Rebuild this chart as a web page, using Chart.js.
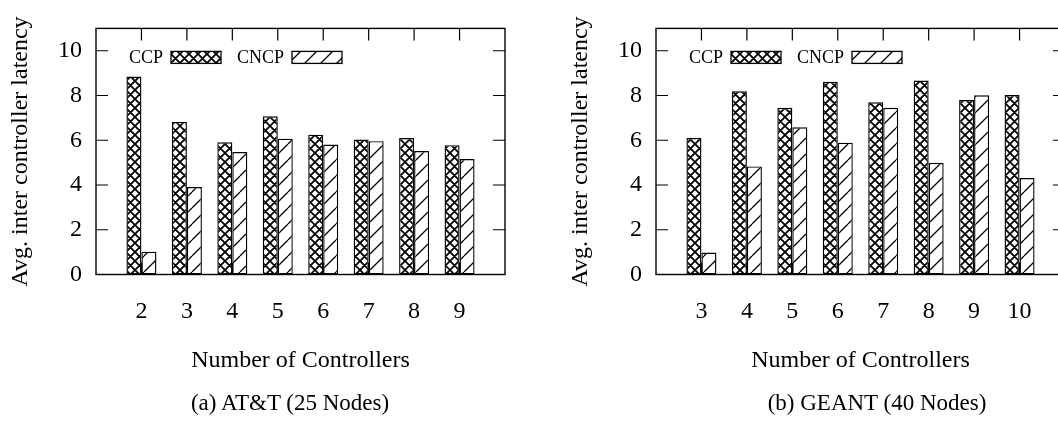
<!DOCTYPE html>
<html>
<head>
<meta charset="utf-8">
<script src="https://cdn.jsdelivr.net/npm/chart.js@4.4.1/dist/chart.umd.min.js"></script>
<style>
  body { margin: 0; width: 1058px; height: 433px; overflow: hidden; background: #fff; position: relative; }
  .panel { position: absolute; top: 0; width: 520px; height: 433px; }
  .caption { position: absolute; top: 391px; font: 23px/23px 'Liberation Serif', serif; color: #000; white-space: nowrap; transform: translateX(-50%); }
</style>
</head>
<body>
<div class="panel" style="left:0"><canvas id="att-chart"></canvas></div>
<div class="panel" style="left:560px"><canvas id="geant-chart"></canvas></div>
<div class="caption" style="left:290px">(a) AT&amp;T (25 Nodes)</div>
<div class="caption" style="left:877px">(b) GEANT (40 Nodes)</div>
<script>
// data
const seriesLabels = ['CCP', 'CNCP'];
const attControllers = [2, 3, 4, 5, 6, 7, 8, 9];
const attCCP = [8.85, 6.82, 5.91, 7.07, 6.25, 6.03, 6.10, 5.78];
const attCNCP = [1.02, 3.91, 5.47, 6.07, 5.81, 5.96, 5.52, 5.16];
const geantControllers = [3, 4, 5, 6, 7, 8, 9, 10];
const geantCCP = [6.10, 8.19, 7.45, 8.61, 7.70, 8.67, 7.80, 8.02];
const geantCNCP = [0.98, 4.83, 6.58, 5.89, 7.45, 4.99, 8.01, 4.31];
const yTicks = [0, 2, 4, 6, 8, 10];
const yMax = 11;

const FONT = "'Liberation Serif', 'Times New Roman', serif";

// start: fill patterns
function crossPattern() {
    const s = 9;
    const c = document.createElement('canvas');
    c.width = s; c.height = s;
    const g = c.getContext('2d');
    g.fillStyle = '#fff';
    g.fillRect(0, 0, s, s);
    g.strokeStyle = '#000';
    g.lineWidth = 1.8;
    g.beginPath();
    for (const dx of [-s, 0, s]) {
        g.moveTo(dx, 0); g.lineTo(dx + s, s);
        g.moveTo(dx + s, 0); g.lineTo(dx, s);
    }
    g.stroke();
    return g.createPattern(c, 'repeat');
}

function slashPattern() {
    const s = 16;
    const c = document.createElement('canvas');
    c.width = s; c.height = s;
    const g = c.getContext('2d');
    g.fillStyle = '#fff';
    g.fillRect(0, 0, s, s);
    g.strokeStyle = '#000';
    g.lineWidth = 1.3;
    g.beginPath();
    for (const dx of [-s, 0, s]) {
        g.moveTo(dx, s); g.lineTo(dx + s, 0);
    }
    g.stroke();
    return g.createPattern(c, 'repeat');
}
// end: fill patterns

// frame, inward ticks on all four sides and the key, gnuplot style
const gnuplotFrame = {
    id: 'gnuplotFrame',
    beforeDatasetsDraw(chart) {
        const {ctx, chartArea: a, scales: {x, y}} = chart;
        ctx.save();
        ctx.strokeStyle = '#000';
        ctx.lineWidth = 1.2;
        ctx.beginPath();
        x.ticks.forEach(t => {
            const px = x.getPixelForValue(t.value);
            ctx.moveTo(px, a.top); ctx.lineTo(px, a.top + 12);
            ctx.moveTo(px, a.bottom); ctx.lineTo(px, a.bottom - 12);
        });
        y.ticks.forEach(t => {
            const py = y.getPixelForValue(t.value);
            ctx.moveTo(a.left, py); ctx.lineTo(a.left + 12, py);
            ctx.moveTo(a.right, py); ctx.lineTo(a.right - 12, py);
        });
        ctx.stroke();
        ctx.restore();
    },
    afterDatasetsDraw(chart) {
        const {ctx, chartArea: a} = chart;
        ctx.save();
        ctx.strokeStyle = '#000';
        ctx.lineWidth = 1.4;
        ctx.strokeRect(a.left, a.top, a.right - a.left, a.bottom - a.top);

        // key
        const ly = a.top + 29;
        ctx.font = '18px ' + FONT;
        ctx.textBaseline = 'middle';
        ctx.textAlign = 'right';
        ctx.fillStyle = '#000';
        chart.data.datasets.forEach((ds, i) => {
            const bx = a.left + 75 + i * 121;
            ctx.fillText(ds.label, bx - 8, ly + 1);
            ctx.fillStyle = ds.backgroundColor;
            ctx.fillRect(bx, ly - 6, 50, 12);
            ctx.lineWidth = 1.3;
            ctx.strokeRect(bx, ly - 6, 50, 12);
            ctx.fillStyle = '#000';
        });
        ctx.restore();
    }
};

function makeChart(id, controllers, ccp, cncp) {
    const series = [ccp, cncp];
    const fills = [crossPattern(), slashPattern()];
    return new Chart(document.getElementById(id), {
        type: 'bar',
        data: {
            datasets: seriesLabels.map((label, k) => ({
                label: label,
                data: controllers.map((c, i) => ({x: c, y: series[k][i]})),
                backgroundColor: fills[k],
                borderColor: '#000',
                borderWidth: 1.4,
                borderSkipped: false,
                categoryPercentage: 0.66,
                barPercentage: 1
            }))
        },
        options: {
            responsive: true,
            maintainAspectRatio: false,
            animation: false,
            layout: {padding: {left: 0, right: 15, top: 20.5, bottom: 57.5}},
            plugins: {legend: {display: false}, tooltip: {enabled: false}},
            scales: {
                x: {
                    type: 'linear',
                    offset: false,
                    min: controllers[0] - 1,
                    max: controllers[controllers.length - 1] + 1,
                    afterBuildTicks: s => { s.ticks = controllers.map(v => ({value: v})); },
                    afterFit: s => { s.height = 101; },
                    grid: {display: false, drawTicks: false},
                    border: {display: false},
                    ticks: {color: '#000', font: {family: FONT, size: 24}, padding: 23, maxRotation: 0},
                    title: {display: true, text: 'Number of Controllers', color: '#000', font: {family: FONT, size: 24}, padding: 0}
                },
                y: {
                    min: 0,
                    max: yMax,
                    afterBuildTicks: s => { s.ticks = yTicks.map(v => ({value: v})); },
                    afterFit: s => { s.width = 96; },
                    grid: {display: false, drawTicks: false},
                    border: {display: false},
                    ticks: {color: '#000', font: {family: FONT, size: 24}, padding: 14},
                    title: {display: true, text: 'Avg. inter controller latency', color: '#000', font: {family: FONT, size: 24}, padding: {top: 6, bottom: 0}}
                }
            }
        },
        plugins: [gnuplotFrame]
    });
}

makeChart('att-chart', attControllers, attCCP, attCNCP);
makeChart('geant-chart', geantControllers, geantCCP, geantCNCP);
</script>
</body>
</html>
